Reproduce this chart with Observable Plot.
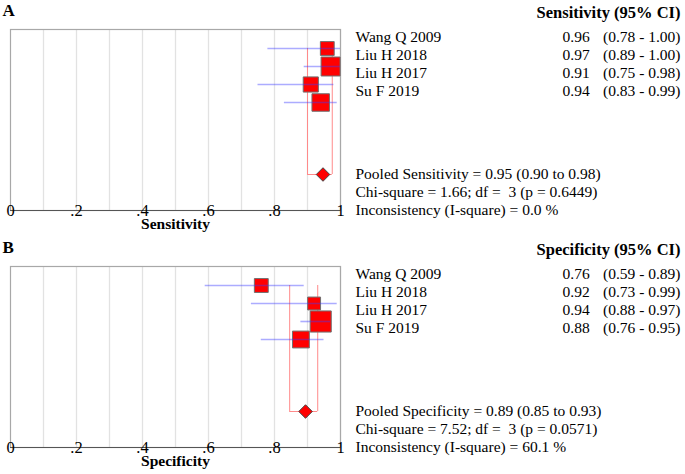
<!DOCTYPE html>
<html>
<head>
<meta charset="utf-8">
<script src="https://cdn.jsdelivr.net/npm/d3@7"></script>
<script src="https://cdn.jsdelivr.net/npm/@observablehq/plot@0.6"></script>
<style>
  html, body { margin: 0; padding: 0; background: #fff; }
  #chart svg { display: block; }
  #chart svg text { white-space: pre; }
</style>
</head>
<body>
<div id="chart"></div>
<script>
// ---- data ----
const studies = ["Wang Q 2009", "Liu H 2018", "Liu H 2017", "Su F 2019"];

const sensEst = [0.96, 0.97, 0.91, 0.94];
const sensLo  = [0.78, 0.89, 0.75, 0.83];
const sensHi  = [1.00, 1.00, 0.98, 0.99];
const sensWeight = [17.6, 33.2, 21.1, 28.1];
const sensPooled = [0.947, 0.90, 0.975]; // estimate, lower, upper
const sensStats = [
  "Pooled Sensitivity = 0.95 (0.90 to 0.98)",
  "Chi-square = 1.66; df =  3 (p = 0.6449)",
  "Inconsistency (I-square) = 0.0 %"
];

const specEst = [0.76, 0.92, 0.94, 0.88];
const specLo  = [0.59, 0.73, 0.88, 0.76];
const specHi  = [0.89, 0.99, 0.97, 0.95];
const specWeight = [17.7, 15.3, 41.0, 26.1];
const specPooled = [0.894, 0.846, 0.931];
const specStats = [
  "Pooled Specificity = 0.89 (0.85 to 0.93)",
  "Chi-square = 7.52; df =  3 (p = 0.0571)",
  "Inconsistency (I-square) = 60.1 %"
];

const xTicks = [0, 0.2, 0.4, 0.6, 0.8, 1];
const xTickLabels = ["0", ".2", ".4", ".6", ".8", "1"];
const gridTicks = [0.1, 0.2, 0.3, 0.4, 0.5, 0.6, 0.7, 0.8, 0.9, 1.0];

// ---- layout ----
const yDomain = [-2, 9];   // row units: header = -2, studies 0..3, pooled block 7..9
const pooledRow = 7;
const fmt = d3.format(".2f");
const serif = "'Liberation Serif', 'Times New Roman', Times, serif";

function panel({letter, measure, est, lo, hi, weight, pooled, stats}) {
  const rows = studies.map((s, i) => ({study: s, est: est[i], lo: lo[i], hi: hi[i], w: weight[i], row: i}));
  return Plot.plot({
    width: 685,
    height: 237,
    marginLeft: 10,
    marginRight: 345,
    marginTop: 29,
    marginBottom: 27,
    style: {fontFamily: serif, fontSize: "15.5px", color: "#000", background: "#fff", overflow: "visible"},
    x: {domain: [0, 1], axis: null},
    y: {domain: yDomain, range: [12, 210], axis: null},
    r: {type: "sqrt", domain: [0, 100], range: [0, 18.6]},
    marks: [
      Plot.ruleX(gridTicks, {stroke: "#e2e2e2", strokeWidth: 1.3}),
      Plot.frame({stroke: "#a8a8a8", strokeWidth: 1.2}),
      Plot.ruleY([yDomain[1]], {stroke: "#555", strokeWidth: 1}),
      // pooled CI bracket
      Plot.ruleX([pooled[1], pooled[2]], {y2: pooledRow, stroke: "#ff8a8a", strokeWidth: 1}),
      Plot.ruleY([pooledRow], {x1: pooled[1], x2: pooled[2], stroke: "#ff8a8a", strokeWidth: 1}),
      // study squares
      Plot.dot(rows, {x: "est", y: "row", r: "w", symbol: "square", fill: "#ff0000", stroke: "#707070", strokeWidth: 1}),
      // study CIs
      Plot.ruleY(rows, {y: "row", x1: "lo", x2: "hi", stroke: "#3a3aff", strokeOpacity: 0.42, strokeWidth: 1.6}),
      // pooled diamond
      Plot.dot([pooled], {x: d => d[0], y: pooledRow, symbol: "diamond2", r: 6.1, fill: "#ff0000", stroke: "#444", strokeWidth: 1}),
      // x tick labels
      Plot.text(xTicks, {x: d => d, text: (d, i) => xTickLabels[i], frameAnchor: "bottom", lineAnchor: "middle", fontSize: 16.5}),
      // axis title
      Plot.text([measure], {frameAnchor: "bottom", dy: 18.5, lineAnchor: "bottom", fontWeight: "bold", fontSize: 15.5}),
      // panel letter
      Plot.text([letter], {frameAnchor: "top-left", dx: -8, dy: -14, lineAnchor: "bottom", textAnchor: "start", fontWeight: "bold", fontSize: 17}),
      // table header
      Plot.text([`${measure} (95% CI)`], {y: yDomain[0], frameAnchor: "right", dx: 340, textAnchor: "end", lineAnchor: "middle", fontWeight: "bold", fontSize: 16.5}),
      // table rows
      Plot.text(rows, {y: "row", text: "study", frameAnchor: "right", dx: 15, dy: -11, textAnchor: "start", lineAnchor: "middle"}),
      Plot.text(rows, {y: "row", text: d => fmt(d.est), frameAnchor: "right", dx: 222, dy: -11, textAnchor: "start", lineAnchor: "middle"}),
      Plot.text(rows, {y: "row", text: d => `(${fmt(d.lo)} - ${fmt(d.hi)})`, frameAnchor: "right", dx: 340, dy: -11, textAnchor: "end", lineAnchor: "middle"}),
      // pooled statistics
      Plot.text(stats, {y: (d, i) => pooledRow + i, frameAnchor: "right", dx: 15, dy: -0.5, textAnchor: "start", lineAnchor: "middle"})
    ]
  });
}

const chart = document.getElementById("chart");
chart.appendChild(panel({letter: "A", measure: "Sensitivity", est: sensEst, lo: sensLo, hi: sensHi, weight: sensWeight, pooled: sensPooled, stats: sensStats}));
chart.appendChild(panel({letter: "B", measure: "Specificity", est: specEst, lo: specLo, hi: specHi, weight: specWeight, pooled: specPooled, stats: specStats}));
</script>
</body>
</html>
